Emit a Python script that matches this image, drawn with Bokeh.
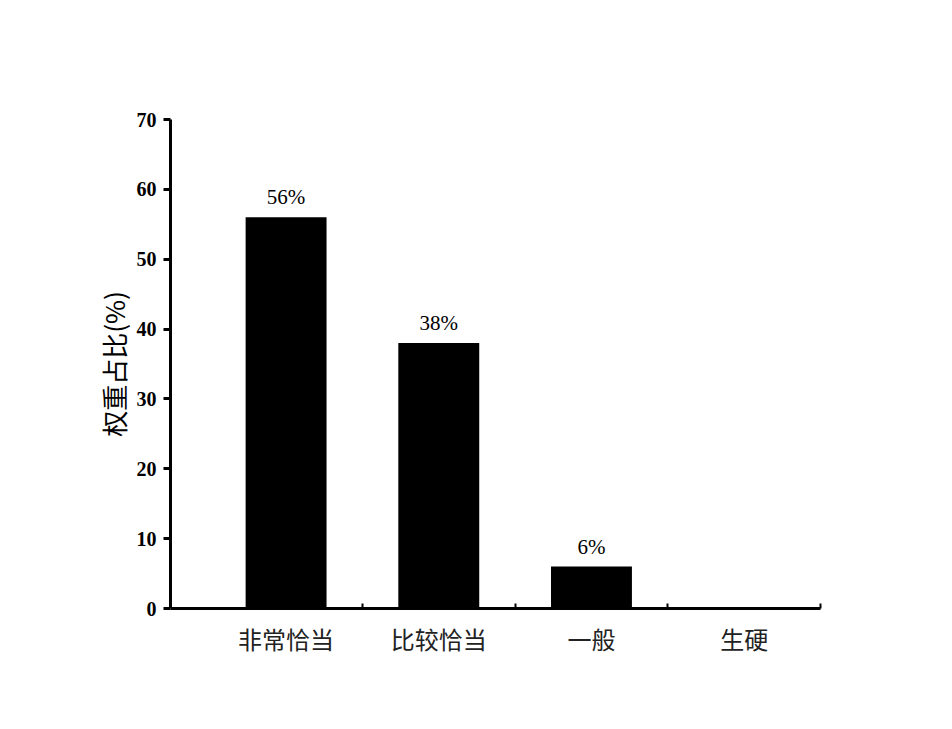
from bokeh.plotting import figure
from bokeh.models import FixedTicker, ColumnDataSource, Range1d
from bokeh.core.properties import value
from bokeh.embed import file_html
from bokeh.resources import INLINE

categories = ["非常恰当", "比较恰当", "一般", "生硬"]
weights = [56, 38, 6, 0]
bar_labels = ["56%", "38%", "6%", ""]
y_ticks = [0, 10, 20, 30, 40, 50, 60, 70]

xs = [i + 1 for i in range(len(categories))]

p = figure(width=920, height=708, output_backend="svg", toolbar_location=None,
           x_range=Range1d(0.243, 4.5), y_range=Range1d(0, 70),
           min_border_left=170, min_border_top=119, min_border_right=100,
           min_border_bottom=100)
p.outline_line_color = None
p.xgrid.visible = False
p.ygrid.visible = False
p.background_fill_color = "white"
p.border_fill_color = "white"

src = ColumnDataSource(dict(x=xs, top=weights, label=bar_labels))
p.vbar(x="x", top="top", width=0.53, bottom=0, source=src,
       fill_color="black", line_color="black", line_width=0)
p.text(x="x", y="top", text="label", source=src, text_align="center",
       text_baseline="bottom", y_offset=-8, text_font=value("Liberation Serif"),
       text_font_size="21px", text_color="black")

# x axis
p.xaxis.ticker = FixedTicker(ticks=xs, minor_ticks=[x + 0.5 for x in xs])
p.xaxis.major_label_overrides = {x: c for x, c in zip(xs, categories)}
p.xaxis.major_tick_in = 0
p.xaxis.major_tick_out = 0
p.xaxis.minor_tick_in = 5
p.xaxis.minor_tick_out = 0
p.xaxis.minor_tick_line_width = 2
p.xaxis.minor_tick_line_color = "black"
p.xaxis.axis_line_width = 3
p.xaxis.axis_line_color = "black"
p.xaxis.major_label_text_font = "Noto Sans CJK SC"
p.xaxis.major_label_text_font_size = "24px"
p.xaxis.major_label_text_font_style = "normal"
p.xaxis.major_label_text_color = "#222222"
p.xaxis.major_label_standoff = 12

# y axis
p.yaxis.ticker = FixedTicker(ticks=y_ticks, minor_ticks=[])
p.yaxis.major_tick_in = 0
p.yaxis.major_tick_out = 7
p.yaxis.major_tick_line_width = 3
p.yaxis.major_tick_line_color = "black"
p.yaxis.axis_line_width = 3
p.yaxis.axis_line_color = "black"
p.yaxis.major_label_text_font = "Liberation Serif"
p.yaxis.major_label_text_font_style = "bold"
p.yaxis.major_label_text_font_size = "20px"
p.yaxis.major_label_text_color = "black"
p.yaxis.major_label_standoff = 7
p.yaxis.axis_label = "权重占比(%)"
p.yaxis.axis_label_text_font = "Noto Sans CJK SC"
p.yaxis.axis_label_text_font_style = "normal"
p.yaxis.axis_label_text_font_size = "26px"
p.yaxis.axis_label_text_color = "black"
p.yaxis.axis_label_standoff = 2

open("out.html", "w").write(file_html(p, INLINE))
